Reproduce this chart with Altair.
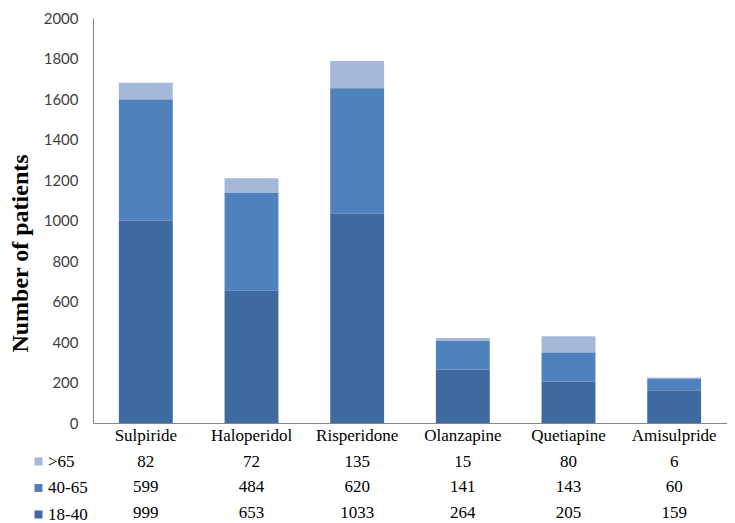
import altair as alt
import pandas as pd

categories = ["Sulpiride", "Haloperidol", "Risperidone", "Olanzapine", "Quetiapine", "Amisulpride"]
groups = [">65", "40-65", "18-40"]
vals_over65 = [82, 72, 135, 15, 80, 6]
vals_40_65 = [599, 484, 620, 141, 143, 60]
vals_18_40 = [999, 653, 1033, 264, 205, 159]
colors = ["#A6B8D9", "#4F81BD", "#3E6A9F"]
y_ticks = list(range(0, 2001, 200))

series = {">65": vals_over65, "40-65": vals_40_65, "18-40": vals_18_40}
stack_rank = {"18-40": 0, "40-65": 1, ">65": 2}
rows = []
for i, g in enumerate(groups):
    for c, v in zip(categories, series[g]):
        rows.append({"drug": c, "age": g, "n": v, "rank": stack_rank[g], "row": i})
df = pd.DataFrame(rows)

W = 634
H = 405

xenc = alt.X("drug:N", sort=categories, title=None,
             scale=alt.Scale(paddingInner=0.49, paddingOuter=0.245),
             axis=alt.Axis(labelAngle=0, labelFont="Liberation Serif", labelFontSize=17,
                           labelColor="#000000", labelPadding=4, ticks=False,
                           domainColor="#868686", domainWidth=1, grid=False))

bars = alt.Chart(df).mark_bar().encode(
    x=xenc,
    y=alt.Y("n:Q", stack="zero", title="Number of patients",
            scale=alt.Scale(domain=[0, 2000], nice=False),
            axis=alt.Axis(values=y_ticks, format="d", grid=False, ticks=False, labelPadding=15,
                          labelFont="Lato", labelFontSize=15, labelColor="#404040",
                          domainColor="#868686", domainWidth=1,
                          titleFont="Liberation Serif", titleFontSize=24, titleFontWeight="bold",
                          titleColor="#000000", titleAngle=-90, titleAlign="center",
                          titleBaseline="middle", titleX=-73, titleY=235)),
    color=alt.Color("age:N", scale=alt.Scale(domain=groups, range=colors),
                    legend=alt.Legend(title=None, orient="none", legendX=-63, legendY=435,
                                      symbolType="square", symbolSize=64, symbolStrokeWidth=0,
                                      labelFont="Liberation Serif", labelFontSize=17,
                                      labelColor="#000000", rowPadding=8.5, padding=0,
                                      labelOffset=1)),
    order=alt.Order("rank:Q", sort="ascending"),
)

table = alt.Chart(df).mark_text(font="Liberation Serif", fontSize=17, baseline="middle",
                                color="#000000").encode(
    x=alt.X("drug:N", sort=categories),
    y=alt.Y("row:Q", scale=alt.Scale(domain=[0, 2], range=[H + 38.7, H + 89.7]), axis=None),
    text=alt.Text("n:Q"),
)

chart = alt.layer(bars, table, padding={"top": 3, "left": 0, "right": 0, "bottom": 0}).resolve_scale(
    y="independent"
).properties(
    width=W, height=H
).configure_view(stroke=None).configure_legend(
    labelFont="Liberation Serif", labelFontSize=17, labelColor="#000000"
)

chart.save("out.html", embed_options={"renderer": "svg", "actions": False})
